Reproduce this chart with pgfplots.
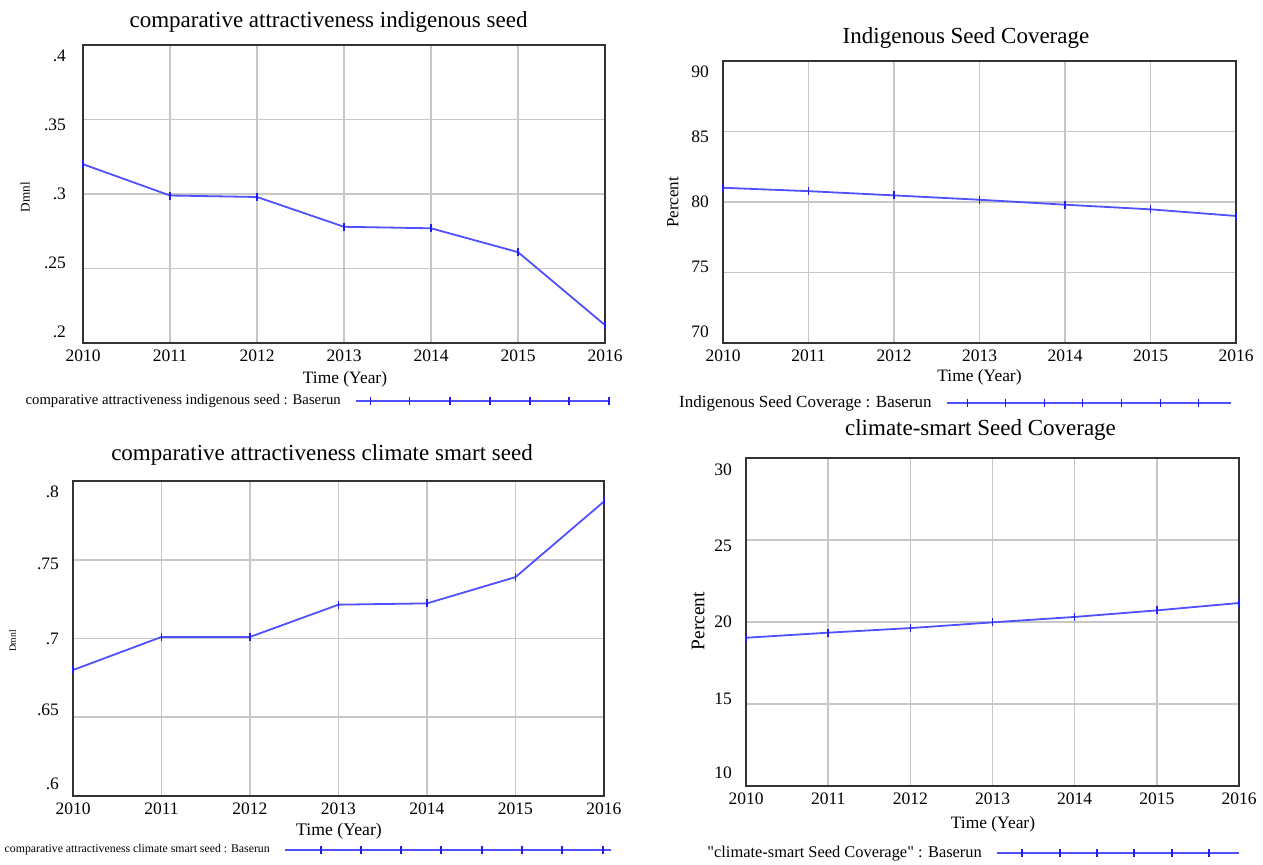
\documentclass[border=0pt]{standalone}
\usepackage{fontspec}
\setmainfont{Liberation Serif}
\newfontfamily\plainq{Liberation Serif}
\usepackage{pgfplots}
\pgfplotsset{compat=1.18}
\definecolor{lineblue}{RGB}{80,80,255}
\definecolor{markblue}{RGB}{30,30,240}
\newcommand{\rl}[2]{\smash{\raisebox{#1}{#2}}}
\newcommand{\legline}[2]{\draw[lineblue, line width=1.1pt] (0pt,0pt) -- (#1pt,0pt); \foreach \t in {#2}{\draw[markblue, line width=0.7pt] ({\t*1pt},-2pt) -- ({\t*1pt},2pt);}}
\pgfplotsset{
  vs/.style={
    scale only axis, anchor=south west, xmin=2010, xmax=2016,
    xtick={2010,2011,2012,2013,2014,2015,2016},
    xticklabels={2010,2011,2012,2013,2014,2015,2016},
    grid=major, major grid style={draw=black!22, line width=0.8pt},
    axis line style={draw=black!80, line width=1pt},
    major tick length=0pt,
    tick label style={font=\fontsize{8.75}{10}\selectfont},
    yticklabel style={anchor=east, xshift=-3.5pt},
    clip=false,
    legend plot pos=right,
    legend style={draw=none, fill=none, inner sep=0pt, outer sep=0pt, /tikz/column sep=5pt, anchor=east},
  },
  dl/.style={lineblue, line width=0.9pt, mark=|, mark size=2pt, mark options={solid, draw=markblue, line width=0.7pt}},
}
\begin{document}
\begin{tikzpicture}
\path[use as bounding box] (0pt,0pt) rectangle (631.5pt,-432pt);

% Panel 1
\begin{axis}[vs, at={(41.5pt,-171.5pt)}, width=261pt, height=149pt,
  ymin=0.2, ymax=0.4, ytick={0.2,0.25,0.3,0.35,0.4},
  yticklabels={\rl{2.6pt}{.2},\rl{-0.1pt}{.25},\rl{-2.9pt}{.3},\rl{-5.7pt}{.35},\rl{-8.4pt}{.4}},
  yticklabel style={xshift=-1.5pt},
  legend style={at={(axis description cs:1.0096,-0.1946)}, font=\fontsize{7.35}{8}\selectfont},
  legend image code/.code={\legline{126.5}{7.25,26.8,47,67,87,106.5,126.5}}]
\addplot[dl] coordinates {(2010,0.320) (2011,0.299) (2012,0.298) (2013,0.278) (2014,0.277) (2015,0.261) (2016,0.212)};
\addlegendentry{comparative attractiveness indigenous seed : Baserun}
\end{axis}

% Panel 2
\begin{axis}[vs, at={(361.5pt,-171.5pt)}, width=256.5pt, height=141pt,
  ymin=70, ymax=90, ytick={70,75,80,85,90},
  yticklabels={\rl{2.6pt}{70},\rl{-0.1pt}{75},\rl{-2.9pt}{80},\rl{-5.7pt}{85},\rl{-8.4pt}{90}},
  legend style={at={(axis description cs:0.992,-0.2128)}, font=\fontsize{8.5}{9}\selectfont},
  legend image code/.code={\legline{142}{10.5,29.5,49,68,87.5,107,126}}]
\addplot[dl] coordinates {(2010,81.01) (2011,80.77) (2012,80.47) (2013,80.16) (2014,79.81) (2015,79.48) (2016,79.01)};
\addlegendentry{Indigenous Seed Coverage : Baserun}
\end{axis}

% Panel 3
\begin{axis}[vs, at={(36.5pt,-398pt)}, width=265.5pt, height=157.5pt,
  ymin=0.6, ymax=0.8, ytick={0.6,0.65,0.7,0.75,0.8},
  yticklabels={\rl{3.1pt}{.6},\rl{1pt}{.65},\rl{-2.9pt}{.7},\rl{-4.8pt}{.75},\rl{-8.4pt}{.8}},
  legend style={at={(axis description cs:1.015,-0.1714)}, font=\fontsize{5.9}{7}\selectfont},
  legend image code/.code={\legline{163}{18,38,58,78,98.5,118.5,138.5,159}}]
\addplot[dl] coordinates {(2010,0.680) (2011,0.701) (2012,0.701) (2013,0.7215) (2014,0.7223) (2015,0.739) (2016,0.787)};
\addlegendentry{comparative attractiveness climate smart seed : Baserun}
\end{axis}

% Panel 4
\begin{axis}[vs, at={(373pt,-393pt)}, width=246.5pt, height=164pt,
  ymin=10, ymax=30, ytick={10,15,20,25,30},
  yticklabels={\rl{3.6pt}{10},\rl{-0.4pt}{15},\rl{-2.9pt}{20},\rl{-5.9pt}{25},\rl{-8.9pt}{30}},
  legend style={at={(axis description cs:1.002,-0.2043)}, font=\fontsize{8.2}{9}\selectfont},
  legend image code/.code={\legline{121}{12.5,31.5,50,68.5,87.5,106}}]
\addplot[dl] coordinates {(2010,19.04) (2011,19.35) (2012,19.63) (2013,19.98) (2014,20.31) (2015,20.71) (2016,21.16)};
\addlegendentry{{\plainq"}climate-smart Seed Coverage{\plainq"} : Baserun}
\end{axis}

% Titles
\node[font=\fontsize{11.5}{13}\selectfont] at (164.25pt,-11pt) {comparative attractiveness indigenous seed};
\node[font=\fontsize{11.5}{13}\selectfont] at (483pt,-18.75pt) {Indigenous Seed Coverage};
\node[font=\fontsize{11.5}{13}\selectfont] at (161pt,-227.5pt) {comparative attractiveness climate smart seed};
\node[font=\fontsize{11.5}{13}\selectfont] at (490.25pt,-215pt) {climate-smart Seed Coverage};
% x labels
\node[font=\fontsize{8.7}{10}\selectfont] at (172.5pt,-189.5pt) {Time (Year)};
\node[font=\fontsize{8.7}{10}\selectfont] at (489.75pt,-188.75pt) {Time (Year)};
\node[font=\fontsize{8.85}{10}\selectfont] at (169.5pt,-415.5pt) {Time (Year)};
\node[font=\fontsize{8.7}{10}\selectfont] at (496.5pt,-412pt) {Time (Year)};
% y labels
\node[rotate=90, font=\fontsize{6.6}{8}\selectfont] at (12.5pt,-98.5pt) {Dmnl};
\node[rotate=90, font=\fontsize{8.5}{10}\selectfont] at (336.5pt,-101.25pt) {Percent};
\node[rotate=90, font=\fontsize{4.8}{6}\selectfont] at (6.25pt,-320.5pt) {Dmnl};
\node[rotate=90, font=\fontsize{9.7}{11}\selectfont] at (349pt,-310.5pt) {Percent};
\end{tikzpicture}
\end{document}
